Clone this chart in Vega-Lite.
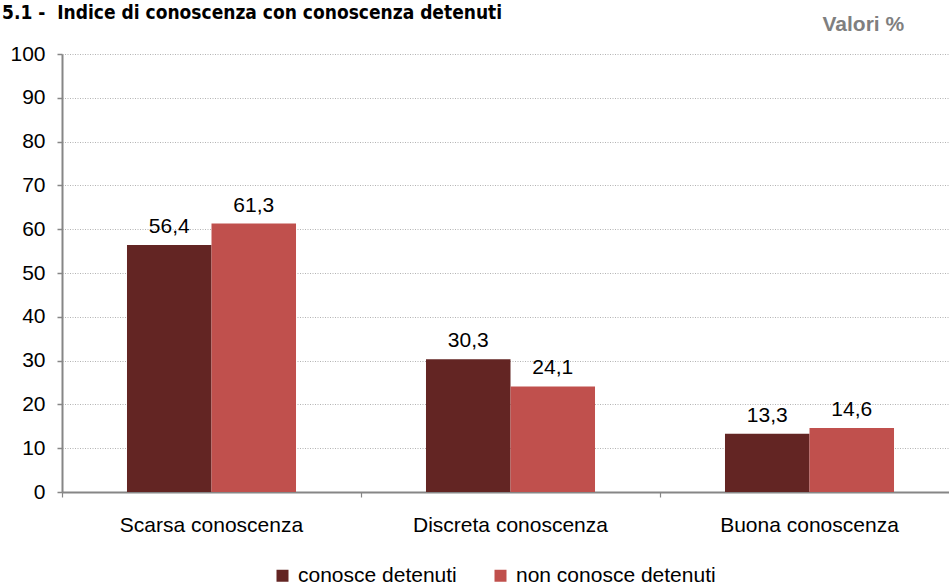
{
  "$schema": "https://vega.github.io/schema/vega-lite/v6.json",
  "autosize": {"type": "none"},
  "padding": {"left": 62, "top": 54, "right": 0, "bottom": 94},
  "width": 887,
  "height": 438,
  "background": "white",
  "title": {
    "text": "5.1 -\u00a0\u00a0Indice di conoscenza con conoscenza detenuti",
    "anchor": "start",
    "frame": "group",
    "dx": -60,
    "offset": -25,
    "baseline": "alphabetic",
    "font": "DejaVu Sans Condensed, DejaVu Sans",
    "fontSize": 19,
    "fontWeight": "bold",
    "color": "black"
  },
  "config": {
    "view": {"stroke": null},
    "locale": {"number": {"decimal": ",", "thousands": ".", "grouping": [3], "currency": ["€", ""]}},
    "font": "Liberation Sans"
  },
  "data": {
    "values": [
      {"cat": "Scarsa conoscenza", "grp": "conosce detenuti", "val": 56.4},
      {"cat": "Scarsa conoscenza", "grp": "non conosce detenuti", "val": 61.3},
      {"cat": "Discreta conoscenza", "grp": "conosce detenuti", "val": 30.3},
      {"cat": "Discreta conoscenza", "grp": "non conosce detenuti", "val": 24.1},
      {"cat": "Buona conoscenza", "grp": "conosce detenuti", "val": 13.3},
      {"cat": "Buona conoscenza", "grp": "non conosce detenuti", "val": 14.6}
    ]
  },
  "encoding": {
    "x": {
      "field": "cat", "type": "nominal", "sort": null,
      "scale": {"paddingInner": 0, "paddingOuter": 0, "range": [0, 897]},
      "axis": {
        "title": null, "labelAngle": 0, "labelFontSize": 21, "labelColor": "black",
        "labelFont": "Liberation Sans", "labelPadding": 17, "labelLimit": 0,
        "domainColor": "#868686", "domainWidth": 2, "tickColor": "#868686", "tickSize": 5, "tickWidth": 1.2,
        "bandPosition": 0
      }
    },
    "xOffset": {"field": "grp", "type": "nominal", "scale": {"paddingInner": 0, "paddingOuter": 0.769}},
    "y": {
      "field": "val", "type": "quantitative",
      "scale": {"domain": [0, 100], "nice": false},
      "axis": {
        "values": [0, 10, 20, 30, 40, 50, 60, 70, 80, 90, 100],
        "labelFontSize": 21, "labelColor": "black", "labelFont": "Liberation Sans", "labelPadding": 12,
        "domainColor": "#868686", "domainWidth": 2, "tickColor": "#868686", "tickSize": 5, "tickWidth": 1.5,
        "grid": true, "gridColor": "#b3b3b3", "gridDash": [1, 1.5], "gridWidth": 1,
        "title": "Valori %", "titleAngle": 0, "titleX": 760, "titleY": -24, "titleAlign": "left",
        "titleBaseline": "alphabetic", "titleFont": "Liberation Sans", "titleFontSize": 21,
        "titleFontWeight": "bold", "titleColor": "#7f7f7f"
      }
    }
  },
  "layer": [
    {
      "mark": {"type": "bar"},
      "encoding": {
        "color": {
          "field": "grp", "type": "nominal",
          "scale": {"domain": ["conosce detenuti", "non conosce detenuti"], "range": ["#632523", "#C0504D"]},
          "legend": {
            "title": null, "orient": "none", "legendX": 210, "legendY": 511, "direction": "horizontal",
            "padding": 0, "labelLimit": 0,
            "symbolType": "square", "symbolSize": 144, "symbolStrokeWidth": 0,
            "labelFontSize": 21, "labelColor": "black", "labelFont": "Liberation Sans", "labelOffset": 5,
            "columnPadding": 33
          }
        }
      }
    },
    {
      "mark": {"type": "text", "baseline": "alphabetic", "dy": -12, "fontSize": 21, "color": "black", "font": "Liberation Sans"},
      "encoding": {
        "text": {"field": "val", "type": "quantitative", "format": ".1f"}
      }
    }
  ]
}
